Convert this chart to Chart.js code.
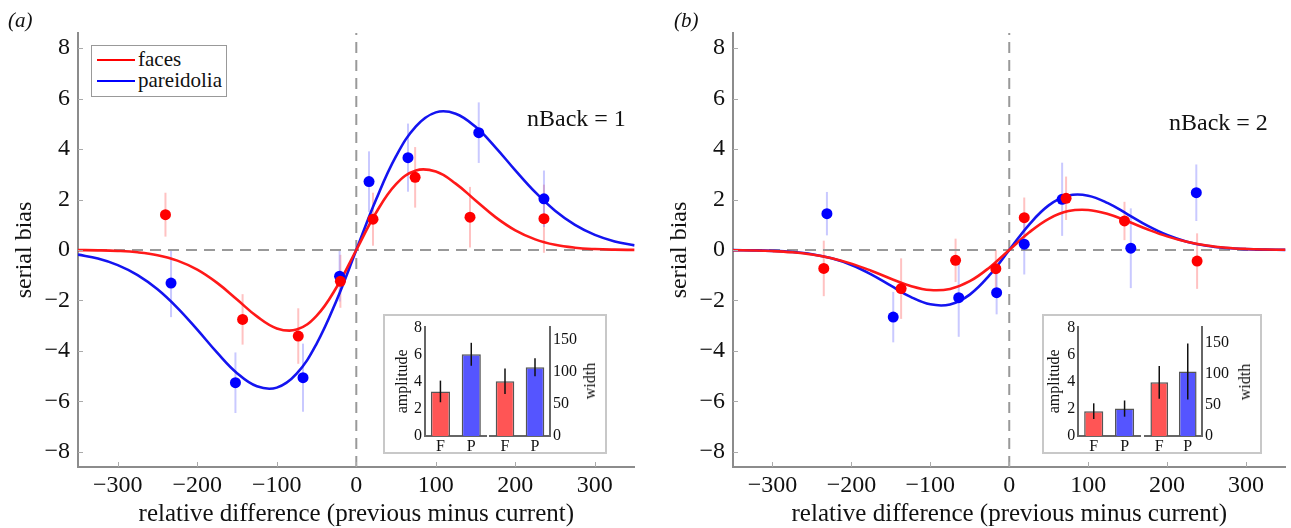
<!DOCTYPE html>
<html>
<head>
<meta charset="utf-8">
<title>serial bias</title>
<script src="https://cdn.jsdelivr.net/npm/chart.js@4.4.1/dist/chart.umd.min.js"></script>
<style>
  body { margin: 0; background: #fff; }
  #fig { position: relative; width: 1291px; height: 528px; overflow: hidden; font-family: "Liberation Serif", "Times New Roman", serif; color: #111; }
  #fig > * { position: absolute; }
  .panel { font-style: italic; font-size: 21px; }
  .nback { font-size: 24px; white-space: nowrap; }
  .legend { border: 1.5px solid #999; background: #fff; }
  .legend i { position: absolute; left: 5px; width: 38px; height: 0; border-top: 2.5px solid; }
  .legend b { position: absolute; left: 46px; font-weight: normal; font-size: 21px; line-height: 21px; }
  .inset { border: 2px solid #c8c8c8; background: #fff; }
  .wlab { font-size: 16px; transform: translate(-50%, -50%) rotate(-90deg); white-space: nowrap; }
</style>
</head>
<body>
<div id="fig">
  <canvas id="mainA" width="645" height="528" style="left:0;top:0"></canvas>
  <canvas id="mainB" width="636" height="528" style="left:655px;top:0"></canvas>

  <span class="panel" style="left:8px;top:8px">(a)</span>
  <span class="panel" style="left:674px;top:8px">(b)</span>
  <span class="nback" style="left:527px;top:105px">nBack = 1</span>
  <span class="nback" style="left:1169px;top:109px">nBack = 2</span>

  <div class="legend" id="legend" style="left:91px;top:45px;width:134px;height:50px"></div>

  <div class="inset" style="left:383px;top:314px;width:220px;height:136px"></div>
  <canvas id="ampA" width="102" height="142" style="left:386px;top:314px"></canvas>
  <canvas id="widA" width="118" height="142" style="left:488px;top:314px"></canvas>
  <span class="wlab" style="left:590px;top:381px">width</span>

  <div class="inset" style="left:1042px;top:314px;width:216px;height:136px"></div>
  <canvas id="ampB" width="98" height="142" style="left:1043px;top:314px"></canvas>
  <canvas id="widB" width="116" height="142" style="left:1141px;top:314px"></canvas>
  <span class="wlab" style="left:1245px;top:382px">width</span>
</div>

<script>
// series names / colours
const seriesNames = ["faces", "pareidolia"];
const RED = "rgb(255,0,0)";
const BLUE = "rgb(0,0,255)";

// tick labels
const xTicks = [-300, -200, -100, 0, 100, 200, 300];
const yTicks = [-8, -6, -4, -2, 0, 2, 4, 6, 8];
const ampTicks = [0, 2, 4, 6, 8];
const widTicks = [0, 50, 100, 150];
const insetCats = ["F", "P"];

// fitted curves
const xFit = [-350,-325,-300,-275,-250,-225,-200,-175,-150,-125,-100,-75,-50,-25,0,25,50,75,100,125,150,175,200,225,250,275,300,325,350];
const fitFacesA = [-0.004,-0.013,-0.037,-0.091,-0.205,-0.420,-0.779,-1.304,-1.962,-2.632,-3.107,-3.154,-2.610,-1.486,0,1.486,2.610,3.154,3.107,2.632,1.962,1.304,0.779,0.420,0.205,0.091,0.037,0.013,0.004];
const fitPareA = [-0.183,-0.341,-0.600,-0.996,-1.558,-2.291,-3.157,-4.070,-4.880,-5.403,-5.454,-4.900,-3.717,-2.009,0,2.009,3.717,4.900,5.454,5.403,4.880,4.070,3.157,2.291,1.558,0.996,0.600,0.341,0.183];
const fitFacesB = [-0.007,-0.018,-0.042,-0.091,-0.179,-0.324,-0.540,-0.822,-1.138,-1.424,-1.588,-1.542,-1.237,-0.691,0,0.691,1.237,1.542,1.588,1.424,1.138,0.822,0.540,0.324,0.179,0.091,0.042,0.018,0.007];
const fitPareB = [-0.004,-0.013,-0.033,-0.078,-0.168,-0.331,-0.594,-0.965,-1.415,-1.856,-2.153,-2.156,-1.767,-1.000,0,1.000,1.767,2.156,2.153,1.856,1.415,0.965,0.594,0.331,0.168,0.078,0.033,0.013,0.004];

// data points (a) nBack = 1
const facesAX = [-240, -143, -73, -20, 21, 74, 143, 236];
const facesAY = [1.40, -2.75, -3.41, -1.24, 1.22, 2.88, 1.30, 1.24];
const facesAErr = [0.87, 1.0, 1.1, 1.05, 1.05, 1.2, 1.2, 1.35];
const pareAX = [-233, -152, -67, -21, 16, 65, 154, 236];
const pareAY = [-1.31, -5.26, -5.06, -1.04, 2.71, 3.66, 4.65, 2.03];
const pareAErr = [1.35, 1.2, 1.35, 1.0, 1.2, 1.35, 1.2, 1.12];

// data points (b) nBack = 2
const facesBX = [-235, -137, -68, -17, 19, 72, 146, 238];
const facesBY = [-0.73, -1.53, -0.41, -0.74, 1.28, 2.05, 1.15, -0.44];
const facesBErr = [1.1, 1.2, 0.86, 0.75, 0.8, 0.86, 0.76, 1.1];
const pareBX = [-231, -147, -64, -16, 19, 67, 154, 237];
const pareBY = [1.44, -2.66, -1.89, -1.69, 0.23, 2.01, 0.07, 2.27];
const pareBErr = [0.86, 1.0, 1.55, 0.86, 1.2, 1.45, 1.58, 1.12];

// inset bars: amplitude and width, F / P
const ampA = [3.3, 6.05];
const ampAErr = [0.8, 0.85];
const widA = [85.7, 107.4];
const widAErr = [20, 14];
const ampB = [1.84, 2.03];
const ampBErr = [0.58, 0.6];
const widB = [86.3, 103.8];
const widBErr = [26.5, 45];

Chart.defaults.font.family = '"Liberation Serif", "Times New Roman", serif';
Chart.defaults.color = "#111";
Chart.defaults.animation = false;

const minus = v => String(v).replace("-", "\u2212");

// vertical error bars from ds.errs
function drawErrs(chart, onTop) {
  const ctx = chart.ctx;
  chart.data.datasets.forEach((ds, i) => {
    if (!ds.errs || !!ds.errOnTop !== onTop) return;
    const meta = chart.getDatasetMeta(i);
    const ys = chart.scales[meta.yAxisID];
    ctx.save();
    ctx.strokeStyle = ds.errColor;
    ctx.lineWidth = ds.errWidth || 2;
    meta.data.forEach((el, j) => {
      const v = typeof ds.data[j] === "number" ? ds.data[j] : ds.data[j].y;
      ctx.beginPath();
      ctx.moveTo(el.x, ys.getPixelForValue(v - ds.errs[j]));
      ctx.lineTo(el.x, ys.getPixelForValue(v + ds.errs[j]));
      ctx.stroke();
    });
    ctx.restore();
  });
}
const errorBars = {
  id: "errorBars",
  beforeDatasetsDraw(chart) { drawErrs(chart, false); },
  afterDatasetsDraw(chart) { drawErrs(chart, true); }
};

// small tick marks pointing into the plot
const innerTicks = {
  id: "innerTicks",
  afterDraw(chart) {
    const { ctx, chartArea } = chart;
    const xs = chart.scales.x, ys = chart.scales.y;
    ctx.save();
    ctx.strokeStyle = "#aaa";
    ctx.lineWidth = 1;
    xs.ticks.forEach(t => {
      const px = Math.round(xs.getPixelForValue(t.value)) + 0.5;
      ctx.beginPath();
      ctx.moveTo(px, chartArea.bottom);
      ctx.lineTo(px, chartArea.bottom - 5);
      ctx.stroke();
    });
    ys.ticks.forEach(t => {
      const py = Math.round(ys.getPixelForValue(t.value)) + 0.5;
      ctx.beginPath();
      ctx.moveTo(chartArea.left, py);
      ctx.lineTo(chartArea.left + 5, py);
      ctx.stroke();
    });
    ctx.restore();
  }
};

function pts(xs, ys) {
  return xs.map((x, i) => ({ x: x, y: ys[i] }));
}

function mainChart(id, fx, fy, fe, px, py, pe, fitF, fitP, padRight) {
  return new Chart(document.getElementById(id), {
    type: "scatter",
    data: {
      datasets: [
        { data: pts(fx, fy), errs: fe, errColor: "rgba(255,120,120,0.45)",
          backgroundColor: RED, pointRadius: 5.5, borderWidth: 0, order: 1 },
        { data: pts(px, py), errs: pe, errColor: "rgba(120,120,255,0.4)",
          backgroundColor: BLUE, pointRadius: 5.5, borderWidth: 0, order: 2 },
        { data: pts(xFit, fitF), showLine: true, borderColor: "rgb(255,25,25)", borderWidth: 2.6,
          pointRadius: 0, tension: 0.4, order: 3 },
        { data: pts(xFit, fitP), showLine: true, borderColor: "rgb(20,20,240)", borderWidth: 2.6,
          pointRadius: 0, tension: 0.4, order: 4 },
        { data: [{ x: -350, y: 0 }, { x: 350, y: 0 }], showLine: true, borderColor: "#999",
          borderDash: [11, 7], borderWidth: 2, pointRadius: 0, order: 8 },
        { data: [{ x: 0, y: -8.6 }, { x: 0, y: 8.6 }], showLine: true, borderColor: "#999",
          borderDash: [11, 7], borderWidth: 2, pointRadius: 0, order: 9 }
      ]
    },
    options: {
      responsive: false,
      layout: { padding: { top: 33, right: padRight, left: 0, bottom: 0 } },
      plugins: { legend: { display: false }, tooltip: { enabled: false } },
      scales: {
        x: {
          min: -350, max: 350,
          afterBuildTicks: s => { s.ticks = xTicks.map(v => ({ value: v })); },
          afterFit: s => { s.height = 61; },
          grid: { display: false, drawTicks: false },
          border: { display: true, color: "#8c8c8c", width: 2 },
          ticks: { padding: 4, font: { size: 24 }, callback: v => minus(v), maxRotation: 0 },
          title: { display: true, text: "relative difference (previous minus current)",
                   font: { size: 25 }, padding: { top: 0, bottom: -1 } }
        },
        y: {
          min: -8.6, max: 8.6,
          afterBuildTicks: s => { s.ticks = yTicks.map(v => ({ value: v })); },
          afterFit: s => { s.width = 78; },
          grid: { display: false, drawTicks: false },
          border: { display: true, color: "#8c8c8c", width: 2 },
          ticks: { padding: 8, font: { size: 24 }, callback: v => minus(v) },
          title: { display: true, text: "serial bias", font: { size: 24 }, padding: { top: 10, bottom: 0 } }
        }
      }
    },
    plugins: [errorBars, innerTicks]
  });
}

function insetChart(id, vals, errs, side, yMax, ticks, axisW, padL, padR, titlePad) {
  const y = {
    position: side, min: 0, max: yMax,
    afterBuildTicks: s => { s.ticks = ticks.map(v => ({ value: v })); },
    afterFit: s => { s.width = axisW; },
    grid: { display: false, drawTicks: false },
    border: { display: true, color: "#666", width: 2 },
    ticks: { padding: 3, font: { size: 16 } },
    title: { display: side === "left", text: "amplitude", font: { size: 16 }, padding: { top: titlePad, bottom: 0 } }
  };
  return new Chart(document.getElementById(id), {
    type: "bar",
    data: {
      labels: insetCats,
      datasets: [{
        data: vals, errs: errs, errOnTop: true, errColor: "#111", errWidth: 1.5,
        backgroundColor: ["rgb(255,85,85)", "rgb(85,85,255)"],
        borderColor: "#555", borderWidth: 1.5,
        categoryPercentage: 1, barPercentage: 0.62
      }]
    },
    options: {
      responsive: false,
      layout: { padding: { top: 11.4, left: padL, right: padR, bottom: 0 } },
      plugins: { legend: { display: false }, tooltip: { enabled: false } },
      scales: {
        x: {
          afterFit: s => { s.height = 20; },
          grid: { display: false, drawTicks: false },
          border: { display: true, color: "#666", width: 2 },
          ticks: { padding: 1, font: { size: 16 } }
        },
        y: y
      }
    },
    plugins: [errorBars]
  });
}

// legend built from the series names
const legend = document.getElementById("legend");
[RED, BLUE].forEach((c, i) => {
  legend.innerHTML += `<i style="top:${13 + i * 21}px;border-color:${c}"></i><b style="top:${3 + i * 21}px">${seriesNames[i]}</b>`;
});

mainChart("mainA", facesAX, facesAY, facesAErr, pareAX, pareAY, pareAErr, fitFacesA, fitPareA, 10.4);
mainChart("mainB", facesBX, facesBY, facesBErr, pareBX, pareBY, pareBErr, fitFacesB, fitPareB, 2.4);

insetChart("ampA", ampA, ampAErr, "left", 8.1, ampTicks, 39, 0, 1.3, 7);
insetChart("widA", widA, widAErr, "right", 171, widTicks, 56, 2, 0, 0);
insetChart("ampB", ampB, ampBErr, "left", 8.1, ampTicks, 35.3, 0, 1, 2);
insetChart("widB", widB, widBErr, "right", 176, widTicks, 55, 4, 0, 0);
</script>
</body>
</html>
